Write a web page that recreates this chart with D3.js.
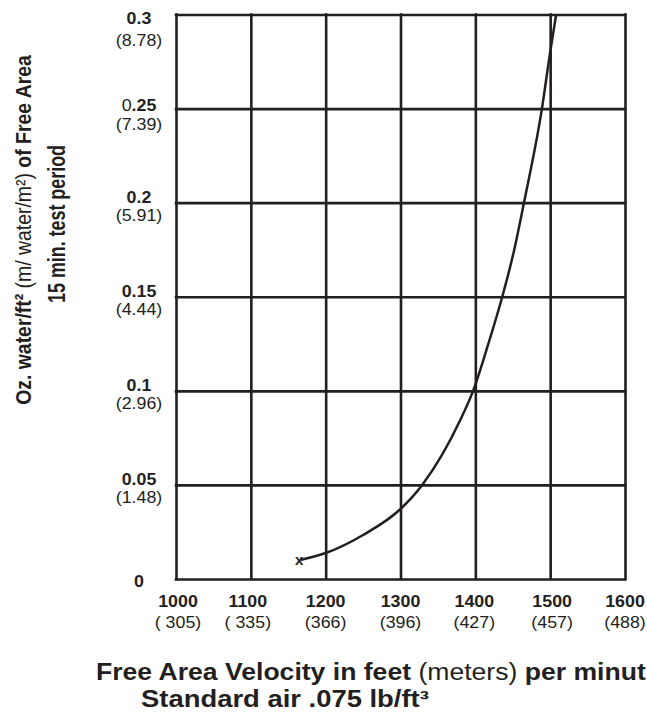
<!DOCTYPE html>
<html>
<head>
<meta charset="utf-8">
<script src="https://cdn.jsdelivr.net/npm/d3@7"></script>
<style>
  html, body { margin: 0; padding: 0; background: #fff; }
  svg { display: block; }
  text { font-family: "Liberation Sans", Arial, Helvetica, sans-serif; fill: #231f20; }
</style>
</head>
<body>
<svg id="chart" width="647" height="717"></svg>
<script>
// ---- data ----
const xTicks = [1000, 1100, 1200, 1300, 1400, 1500, 1600];
const xTickMetric = ["( 305)", "( 335)", "(366)", "(396)", "(427)", "(457)", "(488)"];
const yTicks = [0, 0.05, 0.1, 0.15, 0.2, 0.25, 0.3];
const yTickLabels = ["0", "0.05", "0.1", "0.15", "0.2", "0.25", "0.3"];
const yTickMetric = ["", "(1.48)", "(2.96)", "(4.44)", "(5.91)", "(7.39)", "(8.78)"];
const curveVelocity = [1166, 1200, 1250, 1300, 1329, 1380, 1397, 1417, 1436, 1452, 1465, 1489, 1500, 1508];
const curveWater = [0.0101, 0.0138, 0.0234, 0.0372, 0.05, 0.0846, 0.1, 0.1245, 0.15, 0.175, 0.2, 0.25, 0.280, 0.3];

// ---- layout ----
const ink = "#231f20";
const svg = d3.select("#chart");
const pL = 176, pR = 625, pT = 14.5, pB = 579;
const x = d3.scaleLinear().domain([1000, 1600]).range([pL, pR]);
const y = d3.scaleLinear().domain([0, 0.3]).range([pB, pT]);

// grid via axes
const gx = svg.append("g").attr("transform", `translate(0,${pB})`)
  .call(d3.axisBottom(x).tickValues(xTicks).tickSize(-(pB - pT)).tickFormat(""));
const gy = svg.append("g").attr("transform", `translate(${pL},0)`)
  .call(d3.axisLeft(y).tickValues(yTicks).tickSize(-(pR - pL)).tickFormat(""));
[gx, gy].forEach(g => {
  g.selectAll(".domain").remove();
  g.selectAll(".tick line").attr("stroke", ink).attr("stroke-width", 2.6).attr("stroke-linecap", "square");
});

// helper: stretch text horizontally about its anchor point
function stretch(t, sx) {
  const tx = +t.attr("x"), ty = +t.attr("y");
  t.attr("transform", `translate(${tx},${ty}) scale(${sx},1) translate(${-tx},${-ty})`);
}
// helper: stretch text so its rendered length equals target
function fit(t, target) {
  const len = t.node().getComputedTextLength();
  stretch(t, target / len);
}

// y tick labels
const labFs = 16.5, sx = 1.08;
yTicks.forEach((v, i) => {
  const gyv = y(v);
  let d1 = 0.5, d2 = 18;
  if (i === yTicks.length - 1) { d1 = 9.5; d2 = 32; }
  else if (i === yTicks.length - 2) { d1 = 2; d2 = 21; }
  else if (i === 0) { d1 = 8; }
  const lab = yTickLabels[i];
  const t = svg.append("text").attr("x", 139).attr("y", gyv + d1)
    .attr("text-anchor", "middle").style("font-size", labFs + "px").style("font-weight", "bold");
  if (lab === "0.25") {
    t.append("tspan").style("font-weight", "normal").text("0");
    t.append("tspan").text(".25");
  } else t.text(lab);
  stretch(t, sx);
  if (yTickMetric[i]) {
    const m = svg.append("text").attr("x", 139).attr("y", gyv + d2)
      .attr("text-anchor", "middle").style("font-size", labFs + "px").text(yTickMetric[i]);
    stretch(m, sx);
  }
});

// x tick labels
const xLabShift = [2, -3, 0, 0, -1, 2, 0];
xTicks.forEach((v, i) => {
  const cx = x(v) + xLabShift[i];
  const t = svg.append("text").attr("x", cx).attr("y", 607).attr("text-anchor", "middle")
    .style("font-size", labFs + "px").style("font-weight", "bold").text(String(v));
  stretch(t, sx);
  const m = svg.append("text").attr("x", cx).attr("y", 628).attr("text-anchor", "middle")
    .style("font-size", labFs + "px").text(xTickMetric[i]);
  stretch(m, sx);
});

// curve
const pts = curveVelocity.map((v, i) => [v, curveWater[i]]);
svg.append("path").datum(pts)
  .attr("fill", "none").attr("stroke", ink).attr("stroke-width", 2.5)
  .attr("d", d3.line().x(d => x(d[0])).y(d => y(d[1])).curve(d3.curveMonotoneX));

// start marker
svg.append("text").attr("x", x(curveVelocity[0]) - 1).attr("y", y(curveWater[0]) + 5)
  .attr("text-anchor", "middle").style("font-size", "15px").style("font-weight", "bold").text("x");

// y axis title (rotated)
const yt = svg.append("g").attr("transform", "translate(31,0) rotate(-90)");
const yl1 = yt.append("text").attr("x", -230).attr("y", 0).attr("text-anchor", "middle")
  .style("font-size", "23px").style("font-weight", "bold");
yl1.append("tspan").text("Oz. water/ft² ");
yl1.append("tspan").style("font-weight", "normal").text("(m/ water/m²)");
yl1.append("tspan").text(" of Free Area");
fit(yl1, 350);
const yl2 = yt.append("text").attr("x", -224).attr("y", 34).attr("text-anchor", "middle")
  .style("font-size", "23px").style("font-weight", "bold").text("15 min. test period");
fit(yl2, 158);

// bottom title
const b1 = svg.append("text").attr("x", 96).attr("y", 680)
  .style("font-size", "23px").style("font-weight", "bold");
b1.append("tspan").text("Free Area Velocity in feet ");
b1.append("tspan").style("font-weight", "normal").text("(meters)");
b1.append("tspan").text(" per minut");
fit(b1, 550);
const b2 = svg.append("text").attr("x", 141).attr("y", 707)
  .style("font-size", "23px").style("font-weight", "bold").text("Standard air .075 lb/ft³");
fit(b2, 288);
</script>
</body>
</html>
